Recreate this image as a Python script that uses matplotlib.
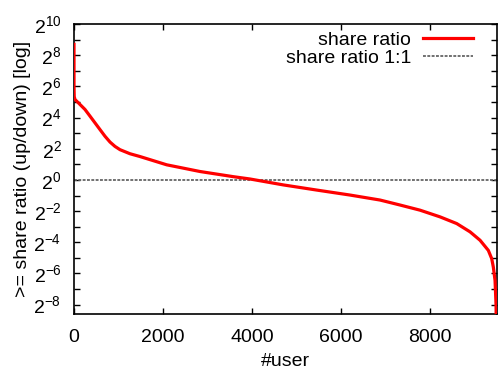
import matplotlib
matplotlib.use("Agg")
import matplotlib.pyplot as plt
from matplotlib.ticker import FixedLocator, FuncFormatter
import numpy as np

plt.rcParams['font.family'] = ['Liberation Sans', 'DejaVu Sans']
plt.rcParams['mathtext.fontset'] = 'custom'
plt.rcParams['mathtext.rm'] = 'Liberation Sans'
plt.rcParams['mathtext.it'] = 'Liberation Sans'

# users sorted by share ratio, values read as log2 exponents
user = [0, 0, 5, 22, 135, 247, 360, 472, 584, 697, 809, 921, 1034, 1258,
        1483, 2083, 2831, 3577, 3955, 4704, 5453, 6202, 6876, 7326, 7775,
        8225, 8600, 8899, 9124, 9310, 9386, 9423, 9461, 9483, 9490]
log2_ratio = [8.7, 6.0, 5.35, 5.16, 4.84, 4.52, 4.09, 3.66, 3.23, 2.8, 2.43,
              2.15, 1.94, 1.68, 1.5, 0.97, 0.54, 0.21, 0.06, -0.32, -0.65,
              -0.97, -1.29, -1.61, -1.94, -2.37, -2.8, -3.33, -3.87, -4.52,
              -5.05, -5.6, -6.45, -8.0, -9.5]
ratio = [2.0 ** v for v in log2_ratio]
ref_ratio = [1.0, 1.0]
ref_x = [0, 9505]

fig = plt.figure(figsize=(4.98, 3.70), dpi=100)
ax = fig.add_axes([0.1486, 0.1514, 0.8494, 0.7836])

ax.plot(user, ratio, color='#ff0000', lw=2.3, label='share ratio',
        solid_joinstyle='round', zorder=3)
ax.plot(ref_x, ref_ratio, color='#666666', lw=1.3, linestyle=(0, (1.6, 0.8)),
        label='share ratio 1:1', zorder=2)

ax.set_yscale('log', base=2)
ax.set_xlim(0, 9505)
ax.set_ylim(2.0 ** -8.6, 2.0 ** 10)

ax.set_xticks([0, 2000, 4000, 6000, 8000])
ax.yaxis.set_major_locator(FixedLocator([2.0 ** e for e in range(-8, 11, 2)]))
ax.yaxis.set_minor_locator(FixedLocator([2.0 ** e for e in range(-9, 10, 2)]))
ax.yaxis.set_major_formatter(FuncFormatter(
    lambda v, p: r'$2^{%d}$' % int(round(np.log2(v))) if v > 0 else ''))
ax.yaxis.set_minor_formatter(FuncFormatter(lambda v, p: ''))

ax.tick_params(which='both', direction='in', top=True, right=True,
               length=4, width=1, labelsize=14)
ax.tick_params(axis='x', pad=11)
ax.tick_params(axis='y', pad=9)
for s in ax.spines.values():
    s.set_linewidth(1.2)

ax.set_xlabel('#user', fontsize=14, labelpad=5)
ax.set_ylabel('>= share ratio (up/down) [log]', fontsize=14, labelpad=2)

ax.legend(loc='upper right', bbox_to_anchor=(0.985, 1.035), frameon=False,
          markerfirst=False, fontsize=14, handlelength=2.6, handletextpad=0.6,
          labelspacing=0.0)

fig.savefig('out.png', dpi=100)
